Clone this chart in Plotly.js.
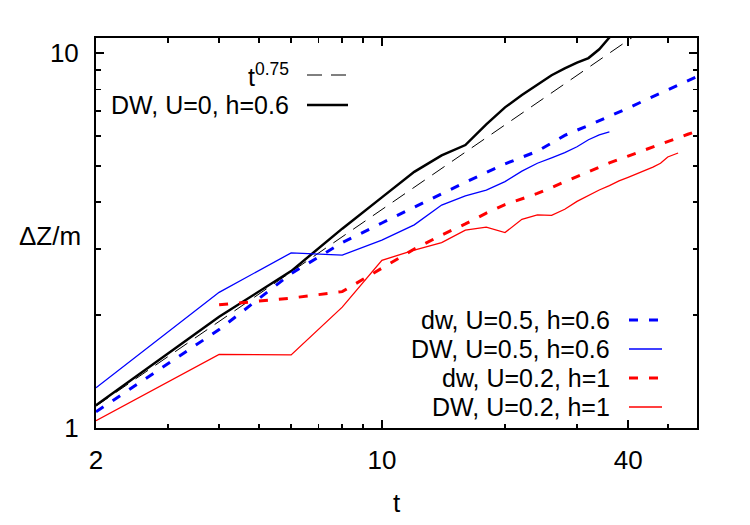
<!DOCTYPE html>
<html>
<head>
<meta charset="utf-8">
<script src="https://cdn.plot.ly/plotly-3.0.1.min.js"></script>
<style>
  html, body { margin: 0; padding: 0; background: #fff; }
  #chart { width: 750px; height: 525px; }
</style>
</head>
<body>
<div id="chart"></div>
<script>
// Reference power law t^0.75
const guideT = [2, 10, 20, 40, 60];
const guideZ = [1.144, 3.824, 6.43, 10.81, 14.65];

// DW, U=0, h=0.6
const dwU0T = [2, 4, 6, 8, 10, 12, 14, 16, 18, 20, 22, 24, 26, 28, 30, 32, 34, 36, 38];
const dwU0Z = [1.15, 1.98, 2.62, 3.40, 4.12, 4.82, 5.33, 5.68, 6.45, 7.16, 7.72, 8.24, 8.72, 9.09, 9.42, 9.69, 10.23, 10.99, 11.8];

// dw, U=0.5, h=0.6
const dwU05T = [2, 4, 6, 8, 10, 12, 14, 16, 18, 20, 24, 28, 32, 36, 40, 44, 48, 52, 56, 60];
const dwU05Z = [1.105, 1.83, 2.58, 3.12, 3.52, 3.87, 4.21, 4.52, 4.80, 5.06, 5.47, 6.03, 6.41, 6.77, 7.13, 7.48, 7.81, 8.12, 8.43, 8.72];

// DW, U=0.5, h=0.6
const DWU05T = [2, 4, 6, 8, 10, 12, 14, 16, 18, 20, 22, 24, 26, 28, 30, 32, 34, 36];
const DWU05Z = [1.28, 2.30, 2.93, 2.89, 3.17, 3.48, 3.93, 4.16, 4.31, 4.54, 4.84, 5.08, 5.25, 5.42, 5.62, 5.87, 6.05, 6.16];

// dw, U=0.2, h=1
const dwU02T = [4, 6, 8, 10, 12, 14, 16, 18, 20, 24, 28, 32, 36, 40, 44, 48, 52, 56, 60];
const dwU02Z = [2.13, 2.22, 2.31, 2.66, 3.00, 3.27, 3.50, 3.74, 3.94, 4.22, 4.54, 4.82, 5.09, 5.31, 5.52, 5.71, 5.89, 6.07, 6.23];

// DW, U=0.2, h=1
const DWU02T = [2, 4, 6, 8, 10, 12, 14, 16, 18, 20, 22, 24, 26, 28, 30, 32, 34, 36, 38, 40, 42, 44, 46, 48, 50, 52, 53];
const DWU02Z = [1.046, 1.572, 1.566, 2.10, 2.80, 2.98, 3.12, 3.37, 3.43, 3.32, 3.60, 3.70, 3.69, 3.83, 4.02, 4.17, 4.31, 4.43, 4.56, 4.66, 4.75, 4.86, 4.96, 5.08, 5.28, 5.38, 5.41];

// Axis ticks
const xMajorTicks = [2, 10, 40];
const xTickLabels = ['2', '10', '40'];
const xMinorTicks = [3, 4, 5, 6, 7, 8, 9, 20, 30, 50];
const yMajorTicks = [1, 10];
const yTickLabels = ['1', '10'];
const yMinorTicks = [2, 3, 4, 5, 6, 7, 8, 9];

const xLimits = [2, 58.95];
const yLimits = [1, 10.96];

// Legend entries: label, colour, width, dash
const keyTop = [
  {label: 't<sup>0.75</sup>', color: '#000000', width: 1, dash: '15px,9px'},
  {label: 'DW, U=0, h=0.6', color: '#000000', width: 2.5, dash: 'solid'}
];
const keyBottom = [
  {label: 'dw, U=0.5, h=0.6', color: '#0000ff', width: 3, dash: '9px,11px'},
  {label: 'DW, U=0.5, h=0.6', color: '#0000ff', width: 1.3, dash: 'solid'},
  {label: 'dw, U=0.2, h=1', color: '#ff0000', width: 3, dash: '9px,11px'},
  {label: 'DW, U=0.2, h=1', color: '#ff0000', width: 1.3, dash: 'solid'}
];

const FAMILY = 'Liberation Sans, Arial, Helvetica, sans-serif';
const font = (size) => ({family: FAMILY, size: size, color: '#000000'});

const W = 750, H = 525;
const M = {l: 96, r: 53, t: 38, b: 97};
const plotW = W - M.l - M.r, plotH = H - M.t - M.b;
// pixel -> paper fraction helpers for keys and free labels
const px = (x) => (x - M.l) / plotW;
const py = (y) => (H - M.b - y) / plotH;

function line(xs, ys, color, width, dash) {
  return {
    x: xs, y: ys, type: 'scatter', mode: 'lines',
    line: {color: color, width: width, dash: dash},
    hoverinfo: 'skip', showlegend: false
  };
}

const traces = [
  line(guideT, guideZ, '#000000', 1, '15px,9px'),
  line(dwU0T, dwU0Z, '#000000', 2.5, 'solid'),
  line(dwU05T, dwU05Z, '#0000ff', 3, '9px,11px'),
  line(DWU05T, DWU05Z, '#0000ff', 1.3, 'solid'),
  line(dwU02T, dwU02Z, '#ff0000', 3, '9px,11px'),
  line(DWU02T, DWU02Z, '#ff0000', 1.3, 'solid')
];

const shapes = [];
const annotations = [];

function addKey(entries, rowsY, textRight, sampleX0, sampleX1) {
  entries.forEach((e, i) => {
    shapes.push({
      type: 'line', xref: 'paper', yref: 'paper',
      x0: px(sampleX0), x1: px(sampleX1), y0: py(rowsY[i]), y1: py(rowsY[i]),
      line: {color: e.color, width: e.width, dash: e.dash}
    });
    annotations.push({
      xref: 'paper', yref: 'paper', x: px(textRight), y: py(rowsY[i]),
      xanchor: 'right', yanchor: 'middle', showarrow: false,
      text: e.label, font: font(25)
    });
  });
}

addKey(keyTop, [75, 105], 291, 307, 348);
addKey(keyBottom, [320, 349, 378, 407], 612, 629, 662);

// vertical-axis title, written horizontally
annotations.push({
  xref: 'paper', yref: 'paper', x: px(83), y: py(236),
  xanchor: 'right', yanchor: 'middle', showarrow: false,
  text: '\u0394Z/m', font: font(26)
});

const axisCommon = {
  type: 'log', tickmode: 'array', ticks: 'inside', ticklen: 8, tickwidth: 1.5,
  tickcolor: '#000000', showline: true, linewidth: 2, linecolor: '#000000',
  mirror: 'allticks', showgrid: false, zeroline: false, tickfont: font(26)
};

const layout = {
  width: W, height: H, margin: M,
  paper_bgcolor: '#ffffff', plot_bgcolor: '#ffffff',
  showlegend: false,
  xaxis: Object.assign({}, axisCommon, {
    range: xLimits.map(Math.log10),
    tickvals: xMajorTicks, ticktext: xTickLabels,
    ticklabelstandoff: 8,
    minor: {tickmode: 'array', tickvals: xMinorTicks, ticks: 'inside', ticklen: 4.5,
            tickwidth: 1.5, tickcolor: '#000000', showgrid: false},
    title: {text: 't', font: font(26), standoff: 20}
  }),
  yaxis: Object.assign({}, axisCommon, {
    range: yLimits.map(Math.log10),
    tickvals: yMajorTicks, ticktext: yTickLabels,
    ticklabelstandoff: 10,
    minor: {tickmode: 'array', tickvals: yMinorTicks, ticks: 'inside', ticklen: 4.5,
            tickwidth: 1.5, tickcolor: '#000000', showgrid: false}
  }),
  shapes: shapes,
  annotations: annotations
};

Plotly.newPlot('chart', traces, layout, {staticPlot: true, displayModeBar: false});
</script>
</body>
</html>
